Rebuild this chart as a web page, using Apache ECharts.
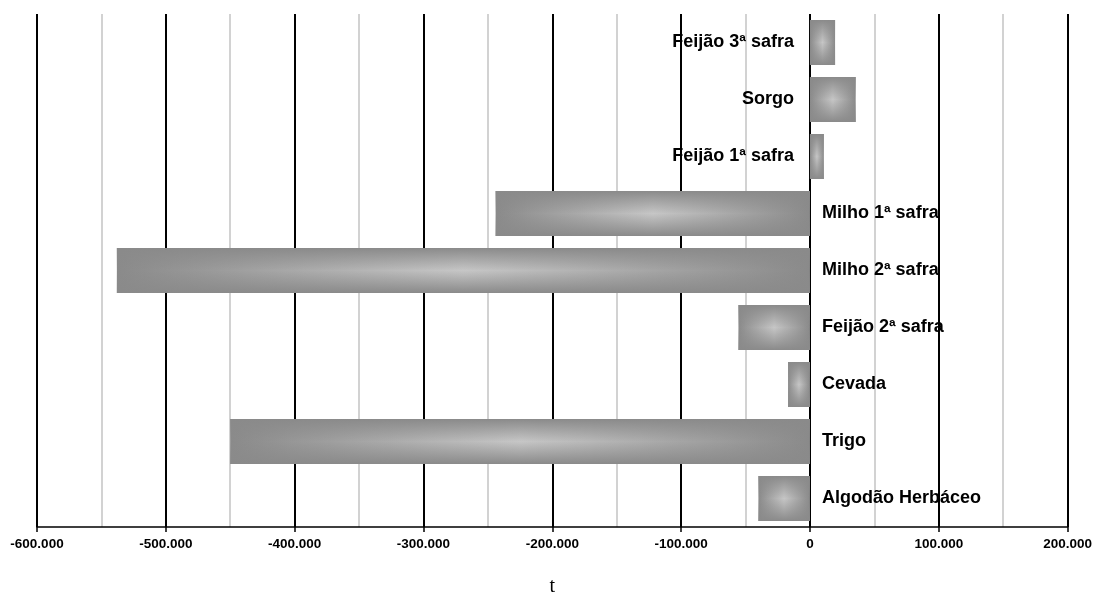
<!DOCTYPE html>
<html>
<head>
<meta charset="utf-8">
<script src="https://cdn.jsdelivr.net/npm/echarts@6/dist/echarts.min.js"></script>
<style>
html,body{margin:0;padding:0;background:#fff;}
#chart{width:1095px;height:603px;}
</style>
</head>
<body>
<div id="chart"></div>
<script>
const categories = ['Feijão 3ª safra','Sorgo','Feijão 1ª safra','Milho 1ª safra','Milho 2ª safra','Feijão 2ª safra','Cevada','Trigo','Algodão Herbáceo'];
const values = [19500, 35500, 10800, -244000, -538000, -55500, -17000, -450000, -40000];
const xTicks = {min: -600000, max: 200000, interval: 100000};
const axisName = 't';

function fmt(v){
  const neg = v < 0;
  let s = String(Math.abs(Math.round(v)));
  s = s.replace(/\B(?=(\d{3})+(?!\d))/g, '.');
  return (neg ? '-' : '') + s;
}

const baseFill = {
  type: 'linear', x: 0, y: 0, x2: 1, y2: 0,
  colorStops: [
    {offset: 0, color: '#8a8a8a'},
    {offset: 0.5, color: '#c6c6c6'},
    {offset: 1, color: '#8a8a8a'}
  ]
};
const edgeFill = {
  type: 'linear', x: 0, y: 0, x2: 0, y2: 1,
  colorStops: [
    {offset: 0, color: 'rgba(138,138,138,1)'},
    {offset: 0.5, color: 'rgba(138,138,138,0)'},
    {offset: 1, color: 'rgba(138,138,138,1)'}
  ]
};

const chart = echarts.init(document.getElementById('chart'));
chart.setOption({
  animation: false,
  backgroundColor: '#fff',
  grid: {left: 37, right: 26, top: 14, bottom: 76},
  xAxis: {
    type: 'value',
    min: xTicks.min, max: xTicks.max, interval: xTicks.interval,
    name: axisName,
    nameLocation: 'middle',
    nameGap: 50,
    nameTextStyle: {fontFamily: 'Liberation Serif, Times New Roman, serif', fontSize: 20, color: '#000'},
    axisLine: {show: true, lineStyle: {color: '#000', width: 1.5}},
    axisTick: {show: true, length: 5, lineStyle: {color: '#000', width: 1.5}},
    axisLabel: {
      formatter: fmt, margin: 10,
      fontFamily: 'Arial, Liberation Sans, sans-serif', fontWeight: 'bold', fontSize: 13.5, color: '#000'
    },
    splitLine: {show: true, lineStyle: {color: '#000', width: 2}},
    minorTick: {show: false, splitNumber: 2},
    minorSplitLine: {show: true, lineStyle: {color: '#c4c4c4', width: 1.5}}
  },
  yAxis: {
    type: 'category', data: categories, inverse: true,
    axisLine: {show: false}, axisTick: {show: false}, axisLabel: {show: false}, splitLine: {show: false}
  },
  series: [
    {
      type: 'bar',
      barCategoryGap: '21%',
      data: values.map(v => ({
        value: v,
        label: {position: v >= 0 ? 'left' : 'right', distance: v >= 0 ? 16 : 12}
      })),
      itemStyle: {color: baseFill},
      label: {
        show: true, formatter: '{b}', color: '#000',
        fontFamily: 'Arial, Liberation Sans, sans-serif', fontWeight: 'bold', fontSize: 18
      },
      z: 2
    },
    {
      type: 'bar',
      barGap: '-100%',
      barCategoryGap: '21%',
      silent: true,
      data: values,
      itemStyle: {color: edgeFill},
      z: 3
    }
  ]
});
</script>
</body>
</html>
